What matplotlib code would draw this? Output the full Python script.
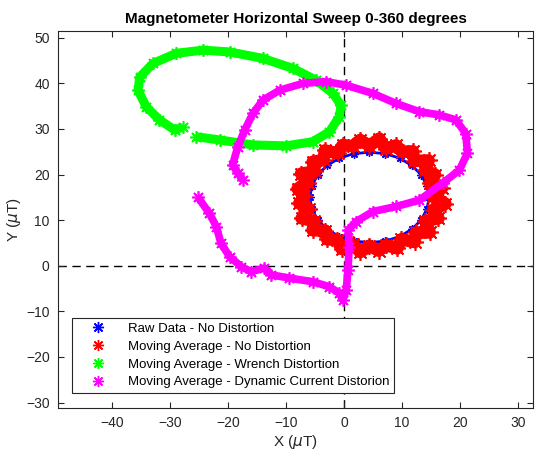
import matplotlib
matplotlib.use("Agg")
import matplotlib.pyplot as plt
from matplotlib.lines import Line2D

plt.rcParams['font.family'] = ['Liberation Sans', 'DejaVu Sans']

# Raw data - no distortion (blue ring)
raw_x = [14.7, 14.3, 13.3, 11.7, 9.6, 7.1, 4.4, 1.7, -0.8, -2.9, -4.5, -5.5,
         -5.9, -5.5, -4.5, -2.9, -0.8, 1.7, 4.4, 7.1, 9.6, 11.7, 13.3, 14.3, 14.7]
raw_y = [15.0, 17.6, 20.0, 22.0, 23.6, 24.6, 24.9, 24.6, 23.6, 22.0, 20.0, 17.6,
         15.0, 12.4, 10.0, 8.0, 6.4, 5.4, 5.1, 5.4, 6.4, 8.0, 10.0, 12.4, 15.0]

# Moving average - no distortion (red ring)
ma_x = [15.4, 16.9, 14.8, 15.7, 14.0, 14.6, 12.1, 11.9, 10.0, 9.0, 7.2, 6.1,
        4.4, 2.8, 1.5, -0.2, -1.1, -3.3, -3.5, -5.4, -5.0, -7.4, -6.2, -8.0,
        -6.8, -7.7, -6.1, -7.3, -5.1, -5.4, -3.2, -2.9, -1.2, -0.4, 1.6, 2.8,
        4.4, 6.0, 7.3, 9.2, 9.9, 12.2, 12.4, 14.8, 14.0, 16.3, 15.4, 17.5, 15.4]
ma_y = [15.3, 17.0, 18.1, 20.0, 20.9, 23.1, 23.0, 25.1, 25.0, 26.4, 25.7, 27.9,
        26.3, 27.6, 26.2, 26.5, 24.7, 25.3, 23.2, 22.8, 20.7, 20.2, 18.2, 16.9,
        15.3, 13.7, 12.5, 10.4, 9.8, 7.8, 7.7, 5.8, 5.7, 3.7, 4.7, 3.0,
        4.4, 3.3, 4.5, 3.8, 5.8, 5.2, 7.3, 7.3, 9.8, 10.4, 12.3, 13.6, 15.3]

# Moving average - wrench distortion (green)
wr_x = [-25.5, -21.4, -15.7, -10.0, -5.4, -2.5, -0.8, -0.5, -1.9, -4.8, -8.8,
        -14.0, -19.7, -24.3, -28.9, -32.9, -35.2, -35.5, -34.1, -31.8, -29.2, -27.8]
wr_y = [28.3, 27.6, 26.5, 26.3, 27.2, 29.4, 32.7, 35.2, 37.8, 40.7, 43.3,
        45.5, 46.9, 47.3, 46.6, 44.4, 41.4, 38.5, 34.9, 32.0, 29.8, 30.4]

# Moving average - dynamic current distortion (magenta)
dc_x = [-25.2, -23.2, -22.0, -21.2, -19.7, -17.7, -16.0, -13.7, -12.5, -9.4,
        -5.4, -2.5, -0.8, -0.2, 0.4, 0.7, 0.9, 0.7, 2.1, 5.0, 9.0, 13.0, 17.0,
        19.9, 21.3, 21.0, 19.3, 16.4, 13.0, 9.0, 5.0, 0.4, -3.1, -7.1, -11.1,
        -14.0, -15.7, -17.1, -18.3, -19.2, -18.3, -17.4]
dc_y = [15.1, 11.5, 8.6, 4.9, 2.0, -0.2, -1.3, -0.5, -2.0, -2.7,
        -3.5, -4.6, -6.0, -7.5, -5.3, -0.9, 4.2, 7.8, 9.7, 11.9, 13.0, 14.4, 18.1,
        21.0, 24.7, 29.0, 32.0, 33.1, 33.8, 35.6, 37.8, 39.6, 40.4, 40.0, 38.5,
        36.3, 33.4, 29.8, 26.1, 22.1, 20.3, 18.8]

labels = ['Raw Data - No Distortion',
          'Moving Average - No Distortion',
          'Moving Average - Wrench Distortion',
          'Moving Average - Dynamic Current Distorion']
colors = ['#0000FF', '#FF0000', '#00FF00', '#FF00FF']
x_ticks = [-40, -30, -20, -10, 0, 10, 20, 30]
y_ticks = [-30, -20, -10, 0, 10, 20, 30, 40, 50]

# eight-spoke asterisk marker
AST = (8, 2, 0)

fig = plt.figure(figsize=(5.35, 4.55), dpi=100)
ax = fig.add_axes([0.1084, 0.1033, 0.8879, 0.8286])

ax.axvline(0, color='black', ls=(0, (6, 4)), lw=1.0, zorder=1)
ax.axhline(0, color='black', ls=(0, (6, 4)), lw=1.0, zorder=1)

ax.plot(raw_x, raw_y, '-', marker=AST, color=colors[0], lw=2.0, ms=6, mew=1.0,
        zorder=2)
ax.plot(ma_x, ma_y, '-', marker=AST, color=colors[1], lw=9, ms=12, mew=1.2,
        zorder=3, solid_joinstyle='round')
ax.plot(wr_x, wr_y, '-', marker=AST, color=colors[2], lw=6.5, ms=9, mew=1.2,
        zorder=4, solid_capstyle='butt', solid_joinstyle='round')
ax.plot(dc_x, dc_y, '-', marker=AST, color=colors[3], lw=5.5, ms=9, mew=1.2,
        zorder=5, solid_capstyle='butt', solid_joinstyle='round')

ax.set_xlim(-49.3, 32.6)
ax.set_ylim(-31.2, 51.5)
ax.set_xticks(x_ticks)
ax.set_yticks(y_ticks)
ax.tick_params(direction='in', length=4, width=0.8, top=True, right=True,
               labelsize=10, colors='#262626', pad=6)
for sp in ax.spines.values():
    sp.set_color('#262626')
    sp.set_linewidth(0.8)

ax.set_title('Magnetometer Horizontal Sweep 0-360 degrees', fontsize=11,
             fontweight='bold', pad=6)
ax.set_xlabel('X ($\\mu$T)', fontsize=11, color='#262626', labelpad=2)
ax.set_ylabel('Y ($\\mu$T)', fontsize=11, color='#262626', labelpad=2)

handles = [Line2D([], [], ls='none', marker=AST, color=c, ms=8, mew=1.0)
           for c in colors]
leg = ax.legend(handles, labels, loc='lower left',
                bbox_to_anchor=(0.0295, 0.0398), borderaxespad=0,
                fontsize=9.5, frameon=True, fancybox=False, framealpha=1,
                edgecolor='#262626', handlelength=3.3, handletextpad=0.6,
                borderpad=0.35, labelspacing=0.42)
leg.get_frame().set_linewidth(0.8)

fig.savefig('out.png', dpi=100, facecolor='white')
